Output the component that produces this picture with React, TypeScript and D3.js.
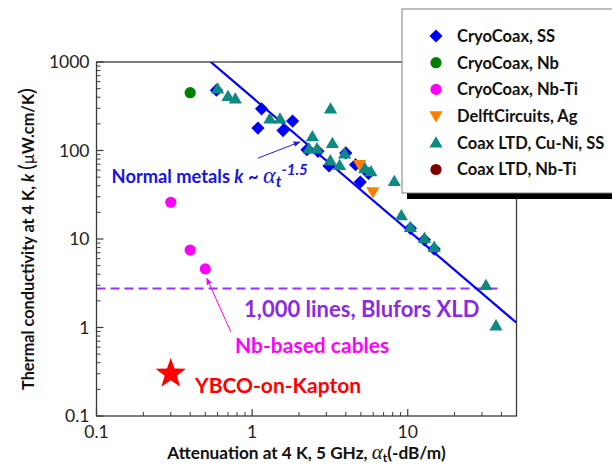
import React from "react";
import * as d3 from "d3";

const W = 612;
const H = 465;
const FONT = "Lato, 'Open Sans', sans-serif";
const SERIF = "'Liberation Serif', 'DejaVu Serif', serif";

// data: [attenuation (-dB/m), thermal conductivity (uW.cm/K)]
const cryoCoaxSS = [
  [0.59, 480], [1.15, 296], [1.09, 179], [1.82, 215], [1.58, 168],
  [2.25, 102], [2.65, 98], [3.12, 67], [4.0, 94], [4.62, 69],
  [4.95, 44], [5.6, 55], [10.4, 13.2], [12.8, 9.8], [14.8, 7.7],
];
const cryoCoaxNb = [[0.4, 450]];
const cryoCoaxNbTi = [[0.3, 26], [0.4, 7.5], [0.5, 4.6]];
const delftAg = [[4.9, 69], [5.97, 34]];
const coaxCuNi = [
  [0.6, 500], [0.7, 411], [0.78, 384], [1.3, 228], [1.51, 228],
  [2.44, 144], [2.32, 105], [2.61, 105], [3.19, 296], [3.28, 121],
  [3.18, 77], [3.65, 68], [3.93, 92], [5.3, 63], [5.8, 58],
  [8.2, 45], [9.1, 18.4], [10.4, 13.6], [12.8, 10.2], [14.8, 8.1],
  [31.8, 3.0], [36.9, 1.05],
];
const coaxNbTi: number[][] = [];
const ybco = [[0.3, 0.3]];

// k ~ C * alpha^-1.5
const fitCoef = 400;
const fitExp = -1.5;
const fitRange = [0.5, 50];
const xldLevel = 2.75;
const xldRange = [0.1, 40];

const xMajor = [0.1, 1, 10];
const yMajor = [0.1, 1, 10, 100, 1000];

const legendItems = [
  { label: "CryoCoax, SS", color: "#0000ff", shape: "diamond" },
  { label: "CryoCoax, Nb", color: "#008000", shape: "circle" },
  { label: "CryoCoax, Nb-Ti", color: "#ff00ff", shape: "circle" },
  { label: "DelftCircuits, Ag", color: "#ff8000", shape: "down" },
  { label: "Coax LTD, Cu-Ni, SS", color: "#0e8a82", shape: "up" },
  { label: "Coax LTD, Nb-Ti", color: "#800000", shape: "circle" },
];

const x = d3.scaleLog().domain([0.1, 50]).range([96.5, 516.5]);
const y = d3.scaleLog().domain([0.1, 1000]).range([416, 62]);

const Marker = ({ shape, color, cx, cy }: any) => {
  if (shape === "circle") return <circle cx={cx} cy={cy} r={5.6} fill={color} />;
  let d = "";
  if (shape === "diamond") d = "M0,-6.6L6.6,0L0,6.6L-6.6,0Z";
  if (shape === "up") d = "M0,-6.5L6.6,4.8L-6.6,4.8Z";
  if (shape === "down") d = "M0,6.5L6.6,-4.8L-6.6,-4.8Z";
  return <path d={d} transform={`translate(${cx},${cy})`} fill={color} />;
};

const starPath = (R: number) => {
  const pts = d3.range(10).map((i) => {
    const r = i % 2 === 0 ? R : R * 0.4;
    const a = (i * Math.PI) / 5 - Math.PI / 2;
    return [r * Math.cos(a), r * Math.sin(a)];
  });
  return "M" + pts.map((p) => p.join(",")).join("L") + "Z";
};

export default function App() {
  const [x0, x1] = x.range();
  const [y0, y1] = y.range();
  const xMinor = x.ticks().filter((t) => !xMajor.includes(+t.toPrecision(3)));
  const yMinor = y.ticks().filter((t) => !yMajor.includes(+t.toPrecision(3)));
  const line = d3.line<number[]>().x((d) => x(d[0])).y((d) => y(d[1]));
  const fitPts = fitRange.map((a) => [a, fitCoef * Math.pow(a, fitExp)]);
  const series = [cryoCoaxSS, cryoCoaxNb, cryoCoaxNbTi, delftAg, coaxCuNi, coaxNbTi];
  const axisColor = "#3a3a3a";

  return (
    <div style={{ position: "absolute", left: 0, top: 0 }}>
      <svg width={W} height={H} style={{ display: "block", background: "#fff" }}>
        <defs>
          <clipPath id="plot">
            <rect x={x0} y={y1} width={x1 - x0} height={y0 - y1} />
          </clipPath>
          <marker id="arrBlue" viewBox="0 0 10 10" refX="9" refY="5" markerWidth="7" markerHeight="7" orient="auto">
            <path d="M0,1L10,5L0,9Z" fill="#2020e0" />
          </marker>
          <marker id="arrPink" viewBox="0 0 10 10" refX="9" refY="5" markerWidth="7" markerHeight="7" orient="auto">
            <path d="M0,1L10,5L0,9Z" fill="#ff00ff" />
          </marker>
        </defs>

        {/* XLD level */}
        <line x1={x(xldRange[0])} x2={x(xldRange[1])} y1={y(xldLevel)} y2={y(xldLevel)}
          stroke="#9b30ff" strokeWidth={2} strokeDasharray="9,5" />

        {/* fit line */}
        <path d={line(fitPts) || ""} stroke="#0000ff" strokeWidth={2.2} fill="none" clipPath="url(#plot)" />

        {/* data */}
        {series.map((s, i) =>
          s.map((d, j) => (
            <Marker key={`${i}-${j}`} shape={legendItems[i].shape} color={legendItems[i].color} cx={x(d[0])} cy={y(d[1])} />
          ))
        )}
        {ybco.map((d, i) => (
          <path key={i} d={starPath(16)} transform={`translate(${x(d[0])},${y(d[1])})`} fill="#ff0000" />
        ))}

        {/* annotations */}
        <line x1={x(1.09)} y1={y(82)} x2={x(2.03)} y2={y(125)} stroke="#2020e0" strokeWidth={1} markerEnd="url(#arrBlue)" />
        <text x={x(0.125)} y={y(43)} fill="#1414e6" fontFamily={FONT} fontWeight="bold" fontSize={18.3}>
          Normal metals <tspan fontStyle="italic">k</tspan> ~ <tspan fontFamily={SERIF} fontStyle="italic" fontWeight="normal" fontSize={24}>α</tspan>
          <tspan fontStyle="italic" fontSize={16} dy={4}>t</tspan>
          <tspan fontStyle="italic" fontSize={15} dy={-12}>-1.5</tspan>
        </text>

        <text x={x(0.887)} y={y(1.33)} fill="#8b2be2" fontFamily={FONT} fontWeight="bold" fontSize={22}>
          1,000 lines, Blufors XLD
        </text>

        <line x1={x(0.729)} y1={y(0.897)} x2={x(0.511)} y2={y(3.6)} stroke="#ff00ff" strokeWidth={1} markerEnd="url(#arrPink)" />
        <text x={x(0.777)} y={y(0.515)} fill="#ff00ff" fontFamily={FONT} fontWeight="bold" fontSize={21}>
          Nb-based cables
        </text>
        <text x={x(0.43)} y={y(0.182)} fill="#ff0000" fontFamily={FONT} fontWeight="bold" fontSize={21}>
          YBCO-on-Kapton
        </text>

        {/* frame */}
        <rect x={x0} y={y1} width={x1 - x0} height={y0 - y1} fill="none" stroke={axisColor} strokeWidth={1.3} />

        {/* x ticks */}
        {xMajor.map((t) => (
          <g key={t}>
            <line x1={x(t)} x2={x(t)} y1={y0} y2={y0 - 7} stroke={axisColor} strokeWidth={1.2} />
            <text x={x(t)} y={y0 + 22} textAnchor="middle" fontFamily={FONT} fontSize={17.5} fill="#222">{t}</text>
          </g>
        ))}
        {xMinor.map((t) => (
          <line key={t} x1={x(t)} x2={x(t)} y1={y0} y2={y0 - 4} stroke={axisColor} strokeWidth={1} />
        ))}

        {/* y ticks */}
        {yMajor.map((t) => (
          <g key={t}>
            <line x1={x0} x2={x0 + 7} y1={y(t)} y2={y(t)} stroke={axisColor} strokeWidth={1.2} />
            <text x={x0 - 7} y={y(t)} dy="0.36em" textAnchor="end" fontFamily={FONT} fontSize={17.5} fill="#222">{t}</text>
          </g>
        ))}
        {yMinor.map((t) => (
          <line key={t} x1={x0} x2={x0 + 4} y1={y(t)} y2={y(t)} stroke={axisColor} strokeWidth={1} />
        ))}

        {/* axis titles */}
        <text x={(x0 + x1) / 2} y={459} textAnchor="middle" fontFamily={FONT} fontWeight="bold" fontSize={17.2} fill="#111">
          Attenuation at 4 K, 5 GHz, <tspan fontFamily={SERIF} fontStyle="italic" fontWeight="normal" fontSize={21}>α</tspan>
          <tspan fontSize={12} dy={3}>t</tspan><tspan dy={-3}>(-dB/m)</tspan>
        </text>
        <text transform={`translate(34,${(y0 + y1) / 2}) rotate(-90)`} textAnchor="middle" fontFamily={FONT} fontWeight="bold" fontSize={16.3} fill="#111">
          Thermal conductivity at 4 K, <tspan fontStyle="italic">k</tspan>{" "}
          <tspan fontWeight="normal" fontSize={22}>(</tspan>
          <tspan fontWeight="normal">μ</tspan>W.cm/K
          <tspan fontWeight="normal" fontSize={22}>)</tspan>
        </text>

        {/* legend */}
        <rect x={407} y={14} width={230} height={185} fill="#000" />
        <rect x={402} y={9} width={230} height={184} fill="#fff" stroke="#808080" strokeWidth={1} />
        {legendItems.map((it, i) => {
          const cy = 36 + i * 26.7;
          return (
            <g key={it.label}>
              <Marker shape={it.shape} color={it.color} cx={436} cy={cy} />
              <text x={457} y={cy} dy="0.36em" fontFamily={FONT} fontWeight="bold" fontSize={16.5} fill="#111">{it.label}</text>
            </g>
          );
        })}
      </svg>
    </div>
  );
}
